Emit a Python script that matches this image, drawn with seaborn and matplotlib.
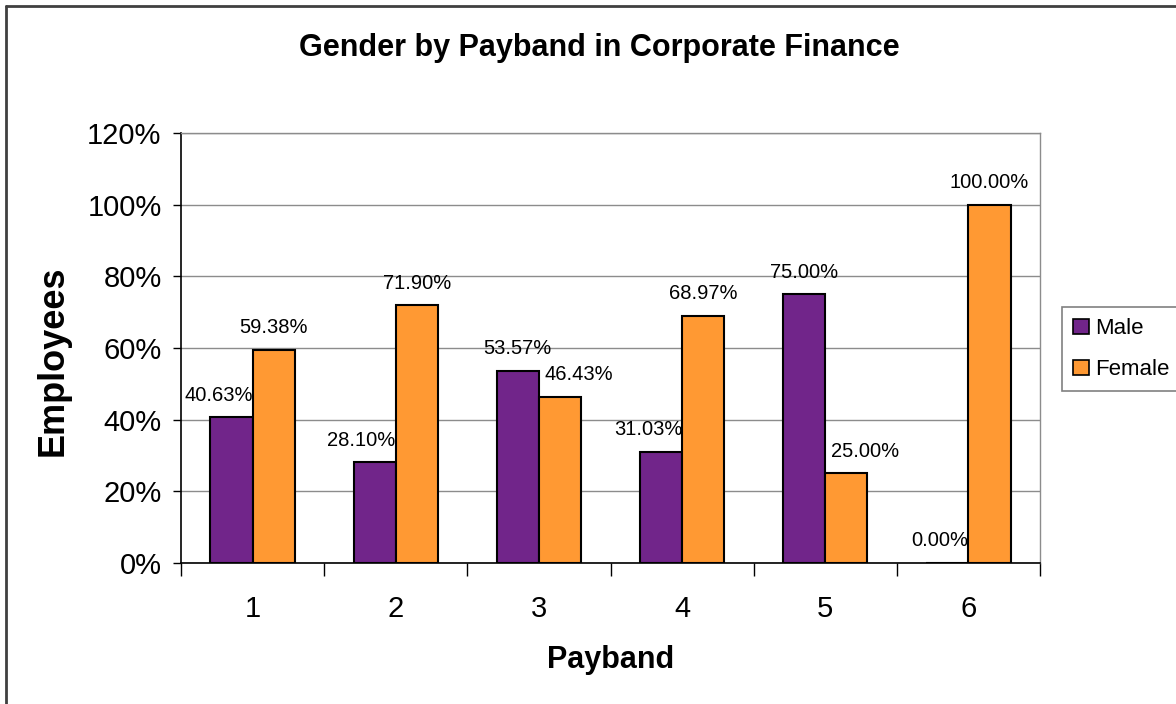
import matplotlib
matplotlib.use("Agg")
import matplotlib.pyplot as plt
import seaborn as sns
import pandas as pd
from matplotlib.lines import Line2D
from matplotlib.ticker import FixedLocator

# ===== 数据 =====
paybands = ["1", "2", "3", "4", "5", "6"]
male_pct = [40.63, 28.10, 53.57, 31.03, 75.00, 0.00]
female_pct = [59.38, 71.90, 46.43, 68.97, 25.00, 100.00]
y_ticks = [0, 20, 40, 60, 80, 100, 120]

# label alignment (as placed in the original chart)
male_ha = ["right", "right", "center", "right", "center", "right"]
female_ha = ["center", "center", "left", "center", "left", "center"]

PURPLE = "#71258A"
ORANGE = "#FF9933"

df = pd.DataFrame({
    "Payband": paybands * 2,
    "Gender": ["Male"] * len(paybands) + ["Female"] * len(paybands),
    "Pct": male_pct + female_pct,
})

sns.set_style("white")
plt.rcParams["font.family"] = ["Liberation Sans", "DejaVu Sans"]
plt.rcParams["text.color"] = "black"
plt.rcParams["axes.labelcolor"] = "black"
plt.rcParams["xtick.color"] = "black"
plt.rcParams["ytick.color"] = "black"

fig = plt.figure(figsize=(11.76, 7.04), dpi=100)
ax = fig.add_axes([181 / 1176, 1 - 563 / 704, (1040 - 181) / 1176, (563 - 133) / 704])

sns.barplot(data=df, x="Payband", y="Pct", hue="Gender", palette=[PURPLE, ORANGE],
            width=0.59, edgecolor="black", linewidth=1.5, saturation=1, ax=ax, legend=True)

ax.set_ylim(0, 120)
ax.set_xlim(-0.5, len(paybands) - 0.5)
ax.set_yticks(y_ticks)
ax.set_yticklabels([f"{t}%" for t in y_ticks], fontsize=21)
ax.tick_params(axis="y", direction="out", length=6, width=1, color="black", pad=8, left=True)
ax.tick_params(axis="x", which="major", length=0, labelsize=21, pad=23)
ax.xaxis.set_minor_locator(FixedLocator([i - 0.5 for i in range(len(paybands) + 1)]))
ax.tick_params(axis="x", which="minor", direction="out", length=9, width=1, color="black", bottom=True)

ax.yaxis.grid(True, color="#8c8c8c", linewidth=1)
ax.set_axisbelow(True)
for side in ["top", "right"]:
    ax.spines[side].set_color("#8c8c8c")
    ax.spines[side].set_linewidth(1)
for side in ["left", "bottom"]:
    ax.spines[side].set_color("black")
    ax.spines[side].set_linewidth(1.2)

ax.set_xlabel("Payband", fontsize=22, fontweight="bold", labelpad=16)
ax.set_ylabel("Employees", fontsize=26, fontweight="bold")
ax.yaxis.set_label_coords(-0.128, 0.47)
fig.text(599 / 1176, 1 - 48 / 704, "Gender by Payband in Corporate Finance",
         fontsize=22, fontweight="bold", ha="center", va="center")

# 数据标签
for cont, vals, aligns in zip(ax.containers, [male_pct, female_pct], [male_ha, female_ha]):
    for bar, v, ha in zip(cont.patches, vals, aligns):
        if ha == "right":
            x = bar.get_x() + bar.get_width()
            dx = 0
        elif ha == "left":
            x = bar.get_x()
            dx = 4
        else:
            x = bar.get_x() + bar.get_width() / 2
            dx = 0
        ax.annotate(f"{v:.2f}%", xy=(x, v), xytext=(dx, 16), textcoords="offset points",
                    ha=ha, va="center", fontsize=14.5)

# 图例
handles, labels = ax.get_legend_handles_labels()
leg = ax.legend(handles, labels, loc="upper left", bbox_to_anchor=(1062 / 1176, 1 - 307 / 704),
                bbox_transform=fig.transFigure, borderaxespad=0, fontsize=16, frameon=True,
                fancybox=False, edgecolor="#606060", handlelength=0.7, handleheight=0.7,
                handletextpad=0.3, borderpad=0.5, labelspacing=0.9)
leg.get_frame().set_linewidth(1.2)
for h in leg.legend_handles:
    h.set_edgecolor("black")
    h.set_linewidth(1.2)

# 外框
fig.add_artist(Line2D([6 / 1176, 6 / 1176], [0, 1 - 6 / 704], transform=fig.transFigure,
                      color="#404040", linewidth=2))
fig.add_artist(Line2D([6 / 1176, 1], [1 - 6 / 704, 1 - 6 / 704], transform=fig.transFigure,
                      color="#404040", linewidth=2))

fig.savefig("out.png", dpi=100)
